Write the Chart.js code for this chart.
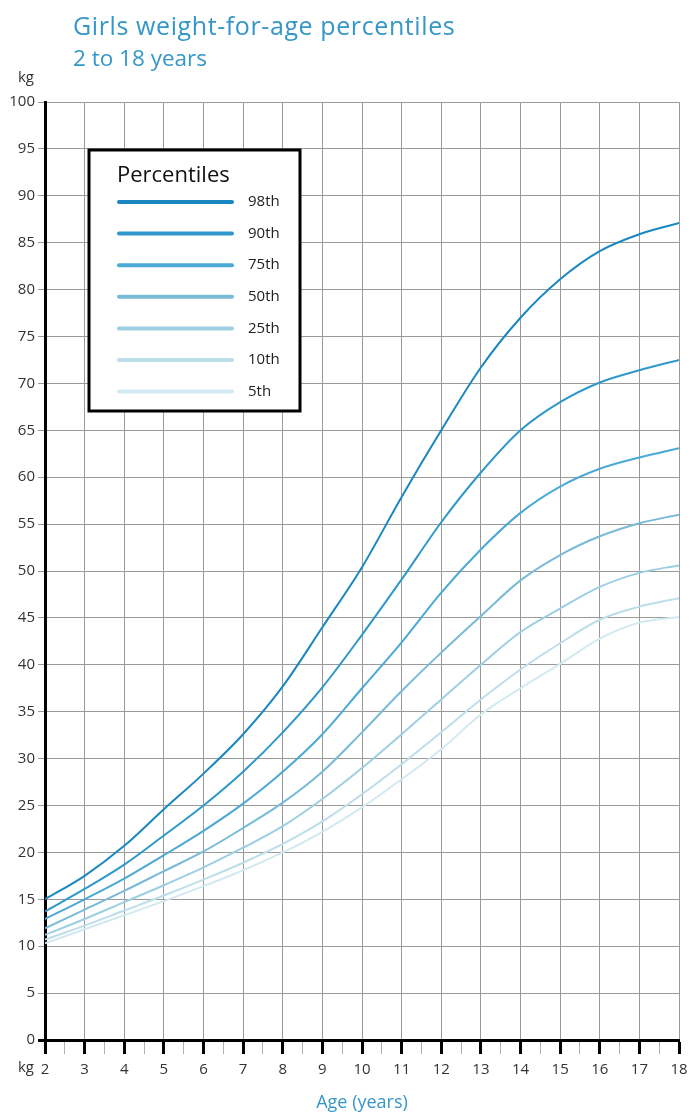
<!DOCTYPE html>
<html>
<head>
<meta charset="utf-8">
<script src="https://cdn.jsdelivr.net/npm/chart.js@4"></script>
<style>
  body { margin: 0; background: #fff; font-family: 'Open Sans', sans-serif; }
  #wrap { position: relative; width: 700px; height: 1120px; }
  #title { position: absolute; left: 73px; top: 10px; font-size: 25px; letter-spacing: 0.6px; color: #3597c8; line-height: 30px; white-space: nowrap; }
  #sub { position: absolute; left: 73px; top: 43px; font-size: 22.5px; color: #3597c8; line-height: 30px; }
  canvas { position: absolute; left: 0; top: 0; }
</style>
</head>
<body>
<div id="wrap">
  <canvas id="growth" width="700" height="1120"></canvas>
  <div id="title">Girls weight-for-age percentiles</div>
  <div id="sub">2 to 18 years</div>
</div>
<script>
const ages = [2, 3, 4, 5, 6, 7, 8, 9, 10, 11, 12, 13, 14, 15, 16, 17, 18];
const p98 = [15.0, 17.5, 20.7, 24.6, 28.4, 32.6, 37.7, 44.0, 50.4, 57.9, 65.0, 71.7, 77.0, 81.1, 84.1, 85.9, 87.1];
const p90 = [13.7, 16.1, 18.7, 21.8, 25.0, 28.6, 32.8, 37.6, 43.2, 49.1, 55.2, 60.5, 65.0, 68.0, 70.1, 71.4, 72.5];
const p75 = [12.9, 15.0, 17.2, 19.7, 22.3, 25.2, 28.6, 32.6, 37.5, 42.4, 47.7, 52.3, 56.2, 59.0, 60.9, 62.1, 63.1];
const p50 = [11.9, 13.9, 15.9, 18.0, 20.1, 22.6, 25.3, 28.6, 32.8, 37.2, 41.3, 45.2, 49.0, 51.7, 53.7, 55.1, 56.0];
const p25 = [11.2, 12.9, 14.7, 16.5, 18.4, 20.5, 22.8, 25.7, 29.0, 32.6, 36.3, 40.0, 43.5, 46.0, 48.3, 49.8, 50.6];
const p10 = [10.7, 12.2, 13.8, 15.4, 17.1, 18.9, 20.9, 23.3, 26.2, 29.4, 32.8, 36.3, 39.5, 42.3, 44.8, 46.2, 47.1];
const p5  = [10.3, 11.8, 13.3, 14.8, 16.4, 18.1, 20.0, 22.2, 24.8, 27.8, 31.0, 34.7, 37.5, 40.1, 42.8, 44.5, 45.1];

const seriesNames = ['98th', '90th', '75th', '50th', '25th', '10th', '5th'];
const seriesValues = [p98, p90, p75, p50, p25, p10, p5];
const seriesColors = ['#1a87c0', '#2f98cb', '#4aa9d5', '#78bad7', '#9dcfe2', '#bcdeea', '#d3e9f1'];

Chart.defaults.font.family = "'Open Sans', sans-serif";

// legend box + the two "kg" labels
const extras = {
  id: 'extras',
  afterDraw(chart) {
    const ctx = chart.ctx;
    const a = chart.chartArea;
    ctx.save();
    ctx.fillStyle = '#333';
    ctx.font = "15px 'Open Sans'";
    ctx.textAlign = 'center';
    ctx.textBaseline = 'middle';
    ctx.fillText('kg', 26, a.top - 24);
    ctx.fillText('kg', 26, a.bottom + 28);

    const bx = a.left + 44, by = a.top + 48, bw = 211, bh = 261;
    ctx.fillStyle = '#fff';
    ctx.fillRect(bx, by, bw, bh);
    ctx.lineWidth = 3;
    ctx.strokeStyle = '#000';
    ctx.strokeRect(bx, by, bw, bh);

    ctx.fillStyle = '#111';
    ctx.textAlign = 'left';
    ctx.font = "22px 'Open Sans'";
    ctx.fillText('Percentiles', bx + 28, by + 26);

    ctx.font = "15px 'Open Sans'";
    ctx.lineCap = 'round';
    seriesNames.forEach((n, i) => {
      const y = by + 52 + i * 31.6;
      ctx.strokeStyle = seriesColors[i];
      ctx.lineWidth = 4;
      ctx.beginPath();
      ctx.moveTo(bx + 30, y);
      ctx.lineTo(bx + 143, y);
      ctx.stroke();
      ctx.fillStyle = '#222';
      ctx.fillText(n, bx + 159, y);
    });
    ctx.restore();
  }
};

new Chart(document.getElementById('growth'), {
  type: 'line',
  data: {
    datasets: seriesNames.map((n, i) => ({
      label: n,
      data: ages.map((a, j) => ({ x: a, y: seriesValues[i][j] })),
      borderColor: seriesColors[i],
      borderWidth: 2,
      pointRadius: 0,
      cubicInterpolationMode: 'monotone',
      fill: false
    })).reverse()
  },
  options: {
    responsive: false,
    animation: false,
    layout: { padding: { top: 102, left: 0, right: 21, bottom: 0 } },
    plugins: {
      legend: { display: false },
      tooltip: { enabled: false }
    },
    scales: {
      x: {
        type: 'linear',
        min: 2,
        max: 18,
        afterFit: s => { s.height = 80; },
        border: { color: '#000', width: 3 },
        grid: {
          color: c => Number.isInteger(c.tick.value) ? '#9a9a9a' : 'rgba(0,0,0,0)',
          lineWidth: 1,
          tickLength: 14,
          tickColor: c => Number.isInteger(c.tick.value) ? '#000' : '#b0b0b0',
          tickWidth: c => Number.isInteger(c.tick.value) ? 3 : 1
        },
        ticks: {
          stepSize: 0.5,
          autoSkip: false,
          maxRotation: 0,
          padding: 7,
          color: '#333',
          font: { size: 15 },
          callback: v => Number.isInteger(v) ? v : ''
        },
        title: {
          display: true,
          text: 'Age (years)',
          color: '#3597c8',
          font: { size: 18 },
          padding: { top: 4, bottom: 6 }
        }
      },
      y: {
        min: 0,
        max: 100,
        afterFit: s => { s.width = 45; },
        border: { color: '#000', width: 3 },
        grid: {
          color: '#9a9a9a',
          lineWidth: 1,
          tickLength: 7,
          tickColor: c => c.tick.value === 0 ? '#000' : '#9a9a9a',
          tickWidth: c => c.tick.value === 0 ? 3 : 1
        },
        ticks: {
          stepSize: 5,
          padding: 3,
          color: '#333',
          font: { size: 15 }
        }
      }
    }
  },
  plugins: [extras]
});
</script>
</body>
</html>
